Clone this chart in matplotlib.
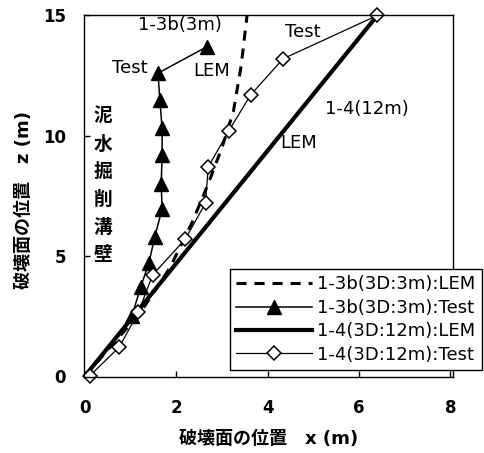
import matplotlib
matplotlib.use('Agg')
import matplotlib.pyplot as plt

# 1-3b (3D:3m) LEM - dashed
lem_3b_x = [0, 1.2, 1.86, 2.35, 2.7, 3.0, 3.25, 3.42, 3.55]
lem_3b_z = [0, 2.6, 4.5, 6.4, 8.0, 9.5, 11.0, 12.9, 15.0]

# 1-3b (3D:3m) Test - triangles
test_3b_x = [0, 1.03, 1.22, 1.40, 1.53, 1.69, 1.67, 1.69, 1.69, 1.64, 1.60, 2.67]
test_3b_z = [0, 2.5, 3.7, 4.7, 5.8, 6.95, 8.0, 9.2, 10.3, 11.5, 12.6, 13.7]

# 1-4 (3D:12m) LEM - thick line
lem_4_x = [0, 6.4]
lem_4_z = [0, 15.0]

# 1-4 (3D:12m) Test - diamonds
test_4_x = [0.1, 0.75, 1.17, 1.48, 2.2, 2.64, 2.7, 3.15, 3.63, 4.34, 6.4]
test_4_z = [0, 1.2, 2.65, 4.2, 5.7, 7.2, 8.7, 10.2, 11.7, 13.2, 15.0]

labels = ['1-3b(3D:3m):LEM', '1-3b(3D:3m):Test',
          '1-4(3D:12m):LEM', '1-4(3D:12m):Test']

xticks = [0, 2, 4, 6, 8]
yticks = [0, 5, 10, 15]

plt.rcParams['font.family'] = ['DejaVu Sans', 'Noto Sans CJK JP']
jp = ['Noto Sans CJK JP', 'DejaVu Sans']
mixed = ['DejaVu Sans', 'Noto Sans CJK JP']

fig = plt.figure(figsize=(4.84, 4.53), dpi=100)
ax = fig.add_axes([0.1736, 0.1678, 0.7624, 0.798])

ax.plot(lem_3b_x, lem_3b_z, color='black', lw=2.2, dashes=(3.3, 2.6),
        label=labels[0])
ax.plot(test_3b_x, test_3b_z, color='black', lw=1.1, marker='^',
        markersize=9.5, markevery=slice(1, None), label=labels[1])
ax.plot(lem_4_x, lem_4_z, color='black', lw=3.0, label=labels[2])
ax.plot(test_4_x, test_4_z, color='black', lw=0.9, marker='D',
        markersize=7, markerfacecolor='white', markeredgecolor='black',
        markeredgewidth=1.1, clip_on=False, label=labels[3])

ax.set_xlim(-0.02, 8.06)
ax.set_ylim(-0.04, 15.0)
ax.set_xticks(xticks)
ax.set_yticks(yticks)
ax.tick_params(direction='in', length=4, width=1, top=False, right=False)
ax.tick_params(axis='x', pad=16)
ax.tick_params(axis='y', pad=13)
for t in ax.get_xticklabels() + ax.get_yticklabels():
    t.set_fontsize(12)
    t.set_fontweight('bold')
for s in ax.spines.values():
    s.set_linewidth(1.0)

ax.set_xlabel('破壊面の位置　x (m)', family=mixed, fontsize=13,
              fontweight='bold', labelpad=9)
ax.set_ylabel('破壊面の位置　z (m)', family=mixed, fontsize=13,
              fontweight='bold')
ax.yaxis.set_label_coords(-0.138, 0.49)

# annotations
ax.text(2.08, 14.6, '1-3b(3m)', fontsize=13, ha='center', va='center')
ax.text(0.99, 12.8, 'Test', fontsize=13, ha='center', va='center')
ax.text(2.78, 12.7, 'LEM', fontsize=13, ha='center', va='center')
ax.text(4.78, 14.3, 'Test', fontsize=13, ha='center', va='center')
ax.text(6.18, 11.1, '1-4(12m)', fontsize=13, ha='center', va='center')
ax.text(4.67, 9.7, 'LEM', fontsize=13, ha='center', va='center')

wall = '泥水掘削溝壁'
for i, ch in enumerate(wall):
    ax.text(0.39, 10.8 - i * 1.15, ch, family=jp, fontsize=13.5,
            fontweight='bold', ha='center', va='center')

leg = ax.legend(loc='lower right', bbox_to_anchor=(482 / 484, 83 / 453),
                bbox_transform=fig.transFigure, fontsize=13,
                handlelength=4.2, handletextpad=0.3, labelspacing=0.3,
                borderpad=0.35, borderaxespad=0, fancybox=False,
                edgecolor='black', framealpha=1)
leg.get_frame().set_linewidth(1.0)

fig.savefig('out.png', dpi=100)
plt.close(fig)
